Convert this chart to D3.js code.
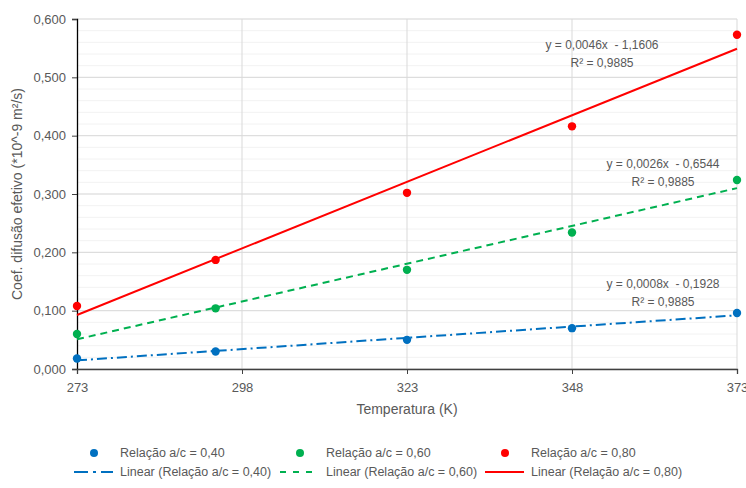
<!DOCTYPE html>
<html>
<head>
<meta charset="utf-8">
<script src="https://cdn.jsdelivr.net/npm/d3@7"></script>
<style>
  body { margin: 0; background: #fff; }
  text { font-family: "Liberation Sans", Arial, sans-serif; fill: #595959; }
</style>
</head>
<body>
<div id="chart"></div>
<script>
// temperaturas (K) e coeficientes
var temps = [273, 294, 323, 348, 373]
var rel040 = [0.018, 0.030, 0.050, 0.070, 0.096]
var rel060 = [0.060, 0.104, 0.170, 0.234, 0.324]
var rel080 = [0.108, 0.187, 0.302, 0.416, 0.573]
var seriesNames = ["Relação a/c = 0,40", "Relação a/c = 0,60", "Relação a/c = 0,80"]
var equations = ["y = 0,0008x  - 0,1928", "y = 0,0026x  - 0,6544", "y = 0,0046x  - 1,1606"]
var r2Labels = ["R² = 0,9885", "R² = 0,9885", "R² = 0,9885"]
var xTicks = [273, 298, 323, 348, 373]
var yTicks = [0, 0.1, 0.2, 0.3, 0.4, 0.5, 0.6]

var colors = ["#0070C0", "#00B050", "#FF0000"]
var dashes = ["10,4,2,4", "7,5", null]
var allSeries = [rel040, rel060, rel080]

var W = 746, H = 488
var m = {left: 77, right: 9, top: 19, bottom: 119}

var svg = d3.select("#chart").append("svg").attr("width", W).attr("height", H)

var x = d3.scaleLinear().domain([273, 373]).range([m.left, W - m.right])
var y = d3.scaleLinear().domain([0, 0.6]).range([H - m.bottom, m.top])

// grade secundaria e principal
var minor = d3.range(0, 0.6001, 0.02)
svg.append("g").selectAll("line").data(minor).enter().append("line")
  .attr("x1", x(273)).attr("x2", x(373))
  .attr("y1", d => y(d)).attr("y2", d => y(d))
  .attr("stroke", "#f2f2f2").attr("stroke-width", 1)
svg.append("g").selectAll("line").data(yTicks).enter().append("line")
  .attr("x1", x(273)).attr("x2", x(373))
  .attr("y1", d => y(d)).attr("y2", d => y(d))
  .attr("stroke", "#d9d9d9").attr("stroke-width", 1)
svg.append("g").selectAll("line").data(xTicks.slice(1)).enter().append("line")
  .attr("x1", d => x(d)).attr("x2", d => x(d))
  .attr("y1", y(0)).attr("y2", y(0.6))
  .attr("stroke", "#d9d9d9").attr("stroke-width", 1)

var fmt = d => d3.format(".3f")(d).replace(".", ",")

var yAxis = svg.append("g").attr("transform", "translate(" + x(273) + ",0)")
  .call(d3.axisLeft(y).tickValues(yTicks).tickFormat(fmt).tickSize(5).tickPadding(6))
var xAxis = svg.append("g").attr("transform", "translate(0," + y(0) + ")")
  .call(d3.axisBottom(x).tickValues(xTicks).tickSize(5).tickPadding(9))
yAxis.select(".domain").attr("stroke", "#000").attr("stroke-width", 1.3)
yAxis.selectAll(".tick line").attr("stroke", "#404040")
xAxis.select(".domain").attr("stroke", "#404040").attr("stroke-width", 1.3)
xAxis.selectAll(".tick line").attr("stroke", "#404040")
svg.selectAll(".tick text").style("font-size", "13px").attr("fill", "#595959")
  .style("font-family", "'Liberation Sans', Arial, sans-serif")

// linhas de tendencia por minimos quadrados
function linreg(xs, ys) {
  var mx = d3.mean(xs), my = d3.mean(ys)
  var sxy = d3.sum(xs, (v, i) => (v - mx) * (ys[i] - my))
  var sxx = d3.sum(xs, v => (v - mx) * (v - mx))
  var b = sxy / sxx
  return {b: b, a: my - b * mx}
}

allSeries.forEach(function(vals, i) {
  var r = linreg(temps, vals)
  var ends = [273, 373]
  svg.append("path")
    .datum(ends)
    .attr("d", d3.line().x(d => x(d)).y(d => y(r.a + r.b * d)))
    .attr("fill", "none")
    .attr("stroke", colors[i])
    .attr("stroke-width", 2)
    .attr("stroke-dasharray", dashes[i])
})

allSeries.forEach(function(vals, i) {
  svg.append("g").selectAll("circle").data(vals).enter().append("circle")
    .attr("cx", (d, j) => x(temps[j]))
    .attr("cy", d => y(d))
    .attr("r", 4.2)
    .attr("fill", colors[i])
})

// rotulos das equacoes
var eqPos = [[663, 284], [663, 164], [602, 45]]
equations.forEach(function(t, i) {
  svg.append("text").attr("x", eqPos[i][0]).attr("y", eqPos[i][1] + 4)
    .attr("text-anchor", "middle").style("font-size", "12px").style("white-space", "pre").text(t)
  svg.append("text").attr("x", eqPos[i][0]).attr("y", eqPos[i][1] + 22)
    .attr("text-anchor", "middle").style("font-size", "12px").text(r2Labels[i])
})

// titulos
svg.append("text").attr("x", x(323)).attr("y", 414)
  .attr("text-anchor", "middle").style("font-size", "14px").text("Temperatura (K)")
svg.append("text")
  .attr("transform", "translate(22," + y(0.3) + ")rotate(-90)")
  .attr("text-anchor", "middle").style("font-size", "14px")
  .text("Coef. difusão efetivo (*10^-9 m²/s)")

// legenda
var legX = [94, 300, 505]
var leg = svg.append("g")
seriesNames.forEach(function(n, i) {
  leg.append("circle").attr("cx", legX[i]).attr("cy", 453).attr("r", 4).attr("fill", colors[i])
  leg.append("text").attr("x", legX[i] + 26).attr("y", 457).style("font-size", "12.5px").text(n)
  leg.append("line").attr("x1", legX[i] - 20).attr("x2", legX[i] + 19)
    .attr("y1", 472).attr("y2", 472)
    .attr("stroke", colors[i]).attr("stroke-width", 2)
    .attr("stroke-dasharray", i == 0 ? "14,5,3,5" : dashes[i] ? "6,7" : null)
  leg.append("text").attr("x", legX[i] + 26).attr("y", 476).style("font-size", "12.5px")
    .text("Linear (" + n + ")")
})
</script>
</body>
</html>
